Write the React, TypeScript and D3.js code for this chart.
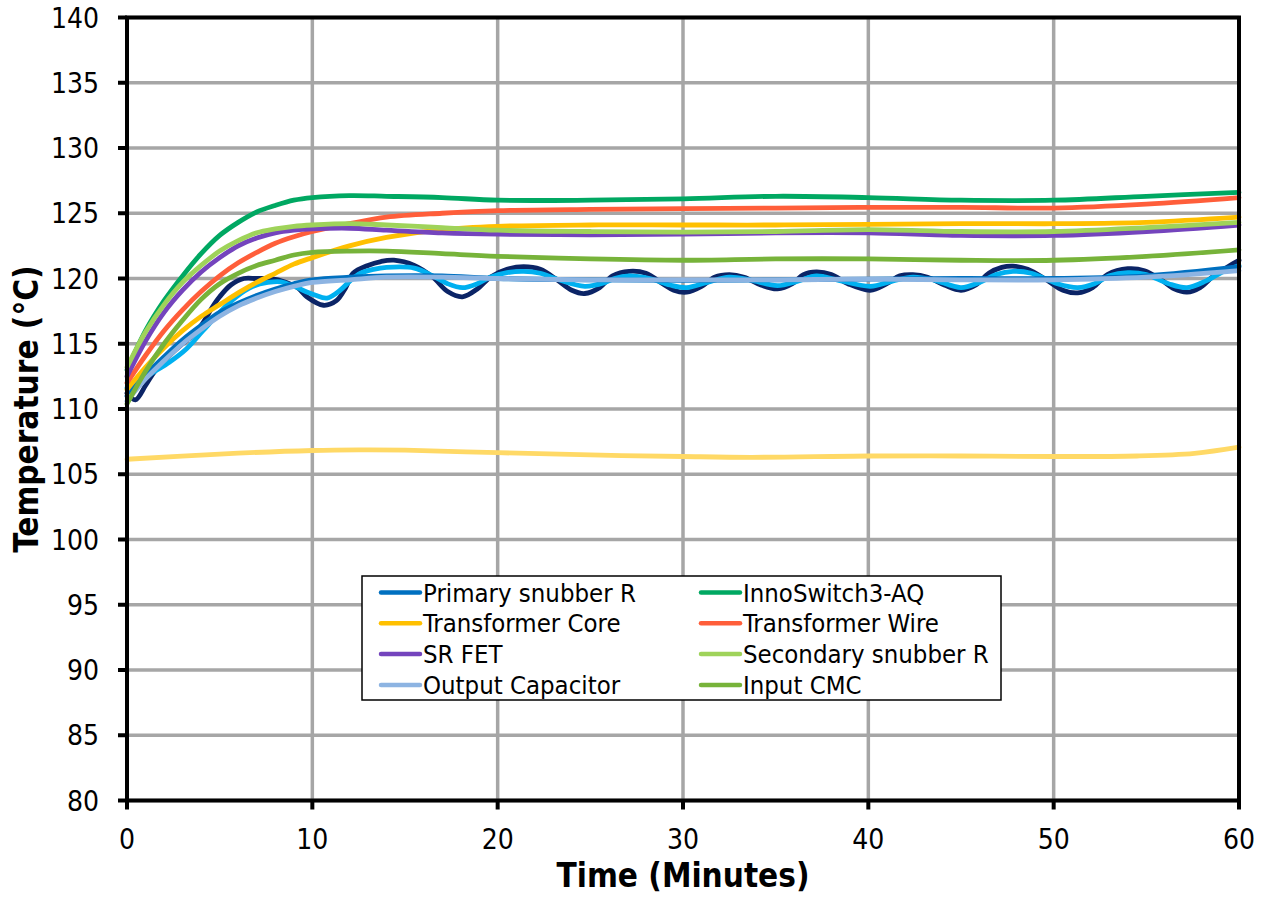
import React from "react";
import * as d3 from "d3";

const W = 1268;
const H = 898;

const xTicks = [0, 10, 20, 30, 40, 50, 60];
const yTicks = [80, 85, 90, 95, 100, 105, 110, 115, 120, 125, 130, 135, 140];

const smoothTime = [0, 1, 2, 3, 4, 5, 6, 7, 8, 9, 10, 12, 14, 17, 20, 25, 30, 35, 40, 45, 50, 55, 60];

const primarySnubber = [111.0, 112.6, 114.0, 115.3, 116.4, 117.4, 118.1, 118.7, 119.2, 119.6, 119.9, 120.1, 120.2, 120.2, 120.0, 119.9, 119.85, 119.9, 119.95, 120.0, 120.0, 120.2, 120.9];
const innoSwitch = [113.0, 116.0, 118.3, 120.2, 121.9, 123.3, 124.3, 125.1, 125.6, 126.0, 126.2, 126.35, 126.3, 126.2, 126.0, 126.0, 126.1, 126.3, 126.2, 126.0, 126.0, 126.3, 126.6];
const transformerCore = [111.5, 113.2, 114.7, 116.0, 117.1, 118.0, 118.9, 119.7, 120.4, 121.1, 121.6, 122.5, 123.15, 123.75, 124.0, 124.1, 124.1, 124.1, 124.15, 124.2, 124.2, 124.3, 124.7];
const transformerWire = [112.0, 114.1, 116.0, 117.6, 119.0, 120.2, 121.2, 122.0, 122.7, 123.2, 123.6, 124.2, 124.7, 125.0, 125.2, 125.3, 125.35, 125.4, 125.45, 125.45, 125.4, 125.7, 126.2];
const srFet = [112.5, 115.2, 117.4, 119.1, 120.5, 121.6, 122.5, 123.1, 123.5, 123.7, 123.8, 123.85, 123.7, 123.5, 123.4, 123.35, 123.4, 123.5, 123.5, 123.3, 123.3, 123.6, 124.1];
const secondarySnubber = [113.2, 115.9, 118.0, 119.7, 121.0, 122.1, 122.9, 123.5, 123.8, 124.0, 124.1, 124.2, 124.1, 123.9, 123.7, 123.6, 123.55, 123.6, 123.75, 123.6, 123.6, 123.9, 124.3];
const outputCap = [110.6, 112.3, 113.7, 115.0, 116.1, 117.1, 117.9, 118.5, 119.0, 119.4, 119.7, 119.9, 120.1, 120.1, 120.0, 119.9, 119.9, 119.9, 119.95, 119.9, 119.9, 120.1, 120.6];
const inputCmc = [110.4, 112.9, 115.0, 116.8, 118.4, 119.6, 120.4, 121.0, 121.4, 121.8, 122.0, 122.1, 122.1, 121.9, 121.7, 121.5, 121.4, 121.5, 121.5, 121.4, 121.4, 121.7, 122.2];

const navyTime = [0, 0.45, 1, 1.5, 2.3, 3, 3.6, 4.1, 4.6, 5, 5.6, 6.3, 7, 7.7, 8.6, 9.2, 9.7, 10.6, 11.3, 11.8, 12.2, 13, 13.7, 14.4, 15.5, 16.5, 17.3, 18.1, 18.9, 19.6, 20.5, 21.4, 22.3, 23.2, 24, 24.7, 25.5, 26.2, 27.1, 28, 28.9, 29.5, 30.2, 31, 31.7, 32.5, 33.3, 34.2, 35.1, 35.9, 36.5, 37.2, 38, 38.9, 40.1, 41, 41.7, 42.4, 43.2, 44.1, 45, 45.8, 46.5, 47.2, 47.8, 48.6, 49.6, 50.5, 51.3, 52.1, 52.9, 54, 54.9, 55.8, 56.5, 57.2, 57.9, 58.7, 59.4, 60];
const navyTemp = [111.2, 110.7, 111.8, 112.9, 114.1, 115.0, 115.7, 116.6, 117.8, 118.6, 119.5, 120.0, 120.0, 120.0, 119.7, 119.3, 118.6, 117.95, 118.3, 119.3, 120.4, 121.0, 121.3, 121.4, 121.0, 120.1, 119.0, 118.6, 119.2, 120.1, 120.7, 120.9, 120.7, 119.9, 119.1, 118.85, 119.3, 120.2, 120.55, 120.4, 119.6, 119.1, 118.95, 119.4, 120.1, 120.3, 120.1, 119.5, 119.2, 119.6, 120.3, 120.5, 120.3, 119.6, 119.1, 119.6, 120.2, 120.3, 120.1, 119.5, 119.1, 119.5, 120.4, 120.85, 120.95, 120.7, 119.9, 119.1, 118.9, 119.3, 120.3, 120.75, 120.6, 119.9, 119.2, 118.95, 119.3, 120.3, 120.9, 121.4];

const cyanTime = [0, 0.5, 1.3, 2.3, 3.2, 4.1, 5, 5.9, 6.8, 7.6, 8.3, 9, 10.1, 10.8, 11.5, 12.1, 12.6, 13.3, 14, 15.5, 16.5, 17.3, 18.1, 18.9, 19.6, 20.5, 21.4, 22.3, 23.3, 24.7, 25.8, 26.3, 27.1, 28.2, 29.3, 30.2, 31.3, 32.5, 33.6, 35.1, 36.2, 37.2, 38.3, 40.1, 41.3, 42.4, 43.5, 45, 46, 46.9, 47.8, 48.8, 50.2, 51.3, 52.2, 53, 54, 55, 56.2, 57.2, 58.2, 59.1, 60];
const cyanTemp = [111.6, 111.9, 112.7, 113.6, 114.6, 116.0, 117.4, 118.6, 119.4, 119.7, 119.75, 119.4, 118.75, 118.5, 119.1, 119.9, 120.4, 120.7, 120.85, 120.8, 120.2, 119.6, 119.3, 119.6, 120.1, 120.45, 120.55, 120.4, 119.9, 119.4, 119.7, 120.0, 120.2, 120.0, 119.5, 119.3, 119.7, 120.1, 119.9, 119.45, 119.8, 120.2, 119.9, 119.4, 119.8, 120.1, 119.9, 119.3, 119.7, 120.3, 120.55, 120.4, 119.6, 119.3, 119.6, 120.2, 120.45, 120.3, 119.6, 119.3, 119.8, 120.5, 121.0];

const ambientTime = [0, 5, 10, 12.5, 15, 20, 25, 30, 33.7, 40, 45, 50, 54.5, 57.6, 60];
const ambientTemp = [106.15, 106.55, 106.82, 106.87, 106.85, 106.65, 106.48, 106.36, 106.3, 106.4, 106.4, 106.36, 106.4, 106.6, 107.07];

type Series = { name: string; color: string; t: number[]; v: number[]; legend: boolean };

const series: Series[] = [
  { name: "Measured A", color: "#0B2466", t: navyTime, v: navyTemp, legend: false },
  { name: "Measured B", color: "#00B0F0", t: cyanTime, v: cyanTemp, legend: false },
  { name: "Ambient", color: "#FFD966", t: ambientTime, v: ambientTemp, legend: false },
  { name: "Primary snubber R", color: "#0070C0", t: smoothTime, v: primarySnubber, legend: true },
  { name: "InnoSwitch3-AQ", color: "#00A862", t: smoothTime, v: innoSwitch, legend: true },
  { name: "Transformer Core", color: "#FFC000", t: smoothTime, v: transformerCore, legend: true },
  { name: "Transformer Wire", color: "#FF5E3A", t: smoothTime, v: transformerWire, legend: true },
  { name: "SR FET", color: "#7444BD", t: smoothTime, v: srFet, legend: true },
  { name: "Secondary snubber R", color: "#9FD35A", t: smoothTime, v: secondarySnubber, legend: true },
  { name: "Output Capacitor", color: "#8DB4E2", t: smoothTime, v: outputCap, legend: true },
  { name: "Input CMC", color: "#77B33A", t: smoothTime, v: inputCmc, legend: true },
];

const FONT = "'DejaVu Sans Condensed', 'DejaVu Sans', sans-serif";

export default function App() {
  const left = 127, right = 1239, top = 17.5, bottom = 800.5;
  const x = d3.scaleLinear().domain([0, 60]).range([left, right]);
  const y = d3.scaleLinear().domain([80, 140]).range([bottom, top]);

  const line = (s: Series) =>
    d3
      .line<number>()
      .x((_, i) => x(s.t[i]))
      .y((d) => y(d))
      .curve(d3.curveCatmullRom.alpha(0.5))(s.v) || "";

  const legendItems = series.filter((s) => s.legend);
  const lgX = 362, lgY = 576, lgW = 639, lgH = 124;
  const rowH = 30.8;

  return (
    <svg
      width={W}
      height={H}
      style={{ position: "absolute", left: 0, top: 0, background: "#fff" }}
      fontFamily={FONT}
    >
      <rect x={0} y={0} width={W} height={H} fill="#fff" />
      {yTicks.map((t) => (
        <line key={"gy" + t} x1={left} x2={right} y1={y(t)} y2={y(t)} stroke="#A6A6A6" strokeWidth={3.5} />
      ))}
      {xTicks.map((t) => (
        <line key={"gx" + t} x1={x(t)} x2={x(t)} y1={top} y2={bottom} stroke="#A6A6A6" strokeWidth={3.5} />
      ))}
      <g fill="none" strokeLinejoin="round" strokeLinecap="round">
        {series.map((s) => (
          <path key={s.name} d={line(s)} stroke={s.color} strokeWidth={4.8} />
        ))}
      </g>
      <rect x={left} y={top} width={right - left} height={bottom - top} fill="none" stroke="#000" strokeWidth={4} />
      {yTicks.map((t) => (
        <g key={"ty" + t}>
          <line x1={left - 9} x2={left} y1={y(t)} y2={y(t)} stroke="#000" strokeWidth={4} />
          <text x={99} y={y(t)} dy="0.36em" textAnchor="end" fontSize={28} fontStretch="condensed" fill="#000">
            {t}
          </text>
        </g>
      ))}
      {xTicks.map((t) => (
        <g key={"tx" + t}>
          <line x1={x(t)} x2={x(t)} y1={bottom} y2={bottom + 9} stroke="#000" strokeWidth={4} />
          <text x={x(t)} y={849} textAnchor="middle" fontSize={28} fontStretch="condensed" fill="#000">
            {t}
          </text>
        </g>
      ))}
      <text x={(left + right) / 2} y={887} textAnchor="middle" fontSize={33} fontWeight="bold" fontStretch="condensed" fill="#000">
        Time (Minutes)
      </text>
      <text
        transform={`translate(38,${(top + bottom) / 2}) rotate(-90)`}
        textAnchor="middle"
        fontSize={33}
        fontWeight="bold"
        fontStretch="condensed"
        fill="#000"
      >
        Temperature (°C)
      </text>
      <rect x={lgX} y={lgY} width={lgW} height={lgH} fill="#fff" stroke="#000" strokeWidth={1.5} />
      {legendItems.map((s, i) => {
        const col = i % 2;
        const row = Math.floor(i / 2);
        const lx = col === 0 ? 381 : 701;
        const ly = lgY + 16.5 + row * rowH;
        return (
          <g key={"lg" + s.name}>
            <line x1={lx} x2={lx + 39} y1={ly} y2={ly} stroke={s.color} strokeWidth={4.5} strokeLinecap="round" />
            <text x={lx + 42} y={ly} dy="0.36em" fontSize={25.5} fontStretch="condensed" fill="#000">
              {s.name}
            </text>
          </g>
        );
      })}
    </svg>
  );
}
